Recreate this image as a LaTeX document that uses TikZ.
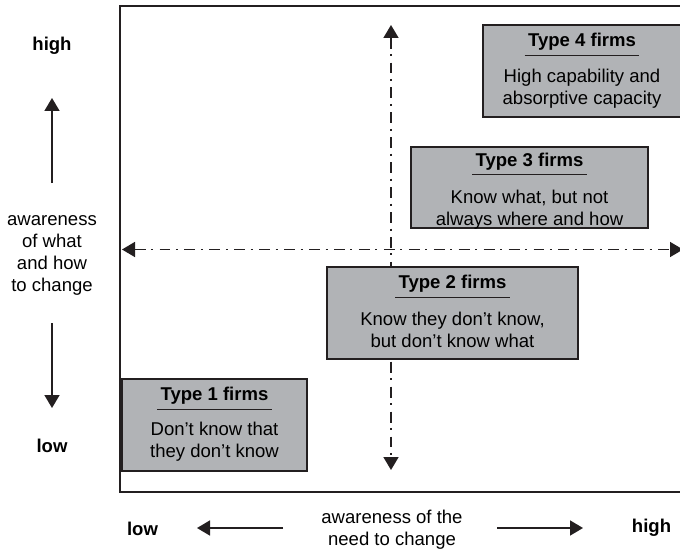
\documentclass[tikz,border=0pt]{standalone}
\usepackage{fontspec}
\setmainfont{Liberation Sans}
\usetikzlibrary{arrows.meta}

\definecolor{boxgrau}{RGB}{177,179,182}
\definecolor{linie}{RGB}{35,31,32}
\newcommand{\schrift}{\fontsize{13.9pt}{16.5pt}\selectfont}

\tikzset{
	firmbox/.style={draw=linie, line width=1pt, fill=boxgrau, inner sep=0pt},
	firmtitle/.style={font=\schrift\bfseries, inner xsep=0pt, inner ysep=3.25pt,
		minimum width=85.5pt},
	firmtext/.style={font=\schrift, align=center, inner sep=0pt},
	achsentext/.style={font=\schrift, align=center, inner sep=0pt},
	achsenende/.style={font=\schrift\bfseries, inner sep=0pt},
	pfeil/.style={line width=1.25pt, draw=linie,
		-{Triangle[length=9.75pt, width=11.25pt]}},
	achse/.style={line width=1.25pt, draw=linie,
		{Triangle[length=9.75pt, width=11.25pt]}-{Triangle[length=9.75pt, width=11.25pt]},
		dash pattern=on 8.2pt off 4.1pt on 1.5pt off 4.9pt},
}

\begin{document}
\begin{tikzpicture}[x=0.75pt, y=-0.75pt]
	\useasboundingbox (0,0) rectangle (680,552);

	% Rahmen
	\draw[line width=1.5pt, draw=linie] (684,6) -- (120,6) -- (120,492) -- (684,492);

	% Achsen
	\coordinate (links) at (122,249.5);
	\coordinate (rechts) at (683,249.5);
	\coordinate (oben) at (391,25);
	\coordinate (unten) at (391,470);
	\draw[achse] (links) -- (rechts);
	\draw[achse] (oben) -- (unten);

	% Typ 4
	\node[firmbox, minimum width=148.5pt, minimum height=69pt] (typ4) at (582,71) {};
	\node[firmtitle] (typ4titel) at (582,42) {Type 4 firms};
	\draw[linie, line width=1pt] (typ4titel.south west) -- (typ4titel.south east);
	\node[firmtext] (typ4text) at (582,88.5) {High capability and\\absorptive capacity};

	% Typ 3
	\node[firmbox, minimum width=177.75pt, minimum height=60.75pt] (typ3) at (529.5,187.5) {};
	\node[firmtitle] (typ3titel) at (529.5,161.5) {Type 3 firms};
	\draw[linie, line width=1pt] (typ3titel.south west) -- (typ3titel.south east);
	\node[firmtext] (typ3text) at (529.5,209.5) {Know what, but not\\always where and how};

	% Typ 2
	\node[firmbox, minimum width=188.25pt, minimum height=69pt] (typ2) at (452.5,313) {};
	\node[firmtitle] (typ2titel) at (452.5,284) {Type 2 firms};
	\draw[linie, line width=1pt] (typ2titel.south west) -- (typ2titel.south east);
	\node[firmtext] (typ2text) at (452.5,330) {Know they don't know,\\but don't know what};

	% Typ 1
	\node[firmbox, minimum width=138.75pt, minimum height=69pt] (typ1) at (214.5,425) {};
	\node[firmtitle] (typ1titel) at (214.5,396) {Type 1 firms};
	\draw[linie, line width=1pt] (typ1titel.south west) -- (typ1titel.south east);
	\node[firmtext] (typ1text) at (214.5,442) {Don't know that\\they don't know};

	% Beschriftung links
	\node[achsenende] (yhoch) at (52,46) {high};
	\node[achsentext] (ytext) at (52,255) {awareness\\of what\\and how\\to change};
	\node[achsenende] (ytief) at (52,446) {low};
	\coordinate (yhochA) at (52,183);
	\coordinate (yhochB) at (52,98);
	\coordinate (ytiefA) at (52,323);
	\coordinate (ytiefB) at (52,408);
	\draw[pfeil] (yhochA) -- (yhochB);
	\draw[pfeil] (ytiefA) -- (ytiefB);

	% Beschriftung unten
	\node[achsenende] (xtief) at (142.5,529) {low};
	\node[achsentext] (xtext) at (392,529.5) {awareness of the\\need to change};
	\node[achsenende] (xhoch) at (651.5,528) {high};
	\coordinate (xtiefA) at (283,528);
	\coordinate (xtiefB) at (197,528);
	\coordinate (xhochA) at (497,528);
	\coordinate (xhochB) at (583,528);
	\draw[pfeil] (xtiefA) -- (xtiefB);
	\draw[pfeil] (xhochA) -- (xhochB);
\end{tikzpicture}
\end{document}
